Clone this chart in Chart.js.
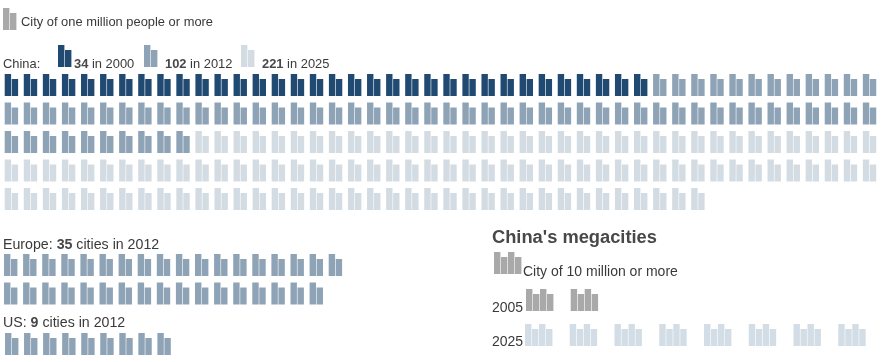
<!DOCTYPE html>
<html><head><meta charset="utf-8">
<script src="https://cdn.jsdelivr.net/npm/chart.js@4"></script>
<style>
html,body{margin:0;padding:0;background:#fff;width:886px;height:362px;overflow:hidden}
#wrap{position:relative;width:886px;height:362px}
canvas{position:absolute;left:0;top:0}
.t{position:absolute;white-space:nowrap;font-family:"Liberation Sans",Arial,sans-serif;color:#3a3a3a;line-height:1;transform:translateY(-100%)}
.t b{color:#484848}
</style></head><body>
<div id="wrap"><canvas id="c" width="886" height="362"></canvas></div>
<script>
// --- data ---
const chinaYears = [2000, 2012, 2025];
const chinaCities = [34, 102, 221];
const europeCities2012 = 35;
const usCities2012 = 9;
const megaYears = [2005, 2025];
const megaCities = [2, 8];
const citiesPerRowChina = 46;
const citiesPerRowEurope = 18;

// --- styles and layout ---
const COL = {dark:'#214a72', mid:'#8ea3b6', light:'#d4dce3', gray:'#a9a9a9', pale:'#d3dde5'};
const BAR = 6.4, STEP = 7, SHORT = 5;
const H = 22;
const segments = {dark:[],mid:[],light:[],gray:[],pale:[]};

function glyph(col,x,top,pairs){
  for(let p=0;p<pairs;p++){
    const x0 = x + p*2*STEP;
    segments[col].push({x:x0+BAR/2, y:[top,top+H]});
    segments[col].push({x:x0+STEP+BAR/2, y:[top+SHORT,top+H]});
  }
}
// China grid
const chinaRowsTop=[74,102.5,131,159.5,188];
const chinaPitch=19.07, chinaX=4.7;
for(let i=0;i<chinaCities[2];i++){
  const r=Math.floor(i/citiesPerRowChina), c=i%citiesPerRowChina;
  const col = i<chinaCities[0]?'dark':i<chinaCities[1]?'mid':'light';
  glyph(col,chinaX+c*chinaPitch,chinaRowsTop[r],1);
}
// Legends
glyph('gray',3,8,1);
glyph('dark',58,45,1); glyph('mid',144,45,1); glyph('light',241,45,1);
glyph('gray',494,252,2);
// Europe
for(let i=0;i<europeCities2012;i++){
  const r=Math.floor(i/citiesPerRowEurope), c=i%citiesPerRowEurope;
  glyph('mid',4+c*19.1,[254,282.5][r],1);
}
// US
for(let i=0;i<usCities2012;i++) glyph('mid',5+i*19.05,333,1);
// Megacities
for(let i=0;i<megaCities[0];i++) glyph('gray',526+i*44.7,289,2);
for(let i=0;i<megaCities[1];i++) glyph('pale',525+i*44.75,324,2);

new Chart(document.getElementById('c'),{
  type:'bar',
  data:{datasets:Object.keys(segments).map(k=>({
    label:k,data:segments[k],backgroundColor:COL[k],borderWidth:0,inflateAmount:0,
    barThickness:BAR,grouped:false
  }))},
  options:{
    responsive:false,animation:false,
    layout:{padding:0},
    plugins:{legend:{display:false},tooltip:{enabled:false},title:{display:false}},
    scales:{
      x:{type:'linear',min:0,max:886,display:false,offset:false,grid:{offset:false}},
      y:{type:'linear',min:0,max:362,reverse:true,display:false}
    }
  }
});

// --- real text ---
const wrap=document.getElementById('wrap');
function label(html,x,base,size){
  const d=document.createElement('div');d.className='t';d.innerHTML=html;
  d.style.left=x+'px';d.style.top=(base+Math.round(size*0.22))+'px';d.style.fontSize=size+'px';
  wrap.appendChild(d);
}
label('City of one million people or more',21,26,12.9);
label('China:',3,68,12.9);
label('<b>'+chinaCities[0]+'</b> in '+chinaYears[0],74,68,12.9);
label('<b>'+chinaCities[1]+'</b> in '+chinaYears[1],165,68,12.9);
label('<b>'+chinaCities[2]+'</b> in '+chinaYears[2],262,68,12.9);
label('Europe: <b>'+europeCities2012+'</b> cities in 2012',3,248,14.2);
label('US: <b>'+usCities2012+'</b> cities in 2012',3,326,14.2);
label("<b>China's megacities</b>",492,242,18.3);
label('City of 10 million or more',523,275,14);
label(String(megaYears[0]),492,311,14);
label(String(megaYears[1]),492,345,14);
</script>
</body></html>
